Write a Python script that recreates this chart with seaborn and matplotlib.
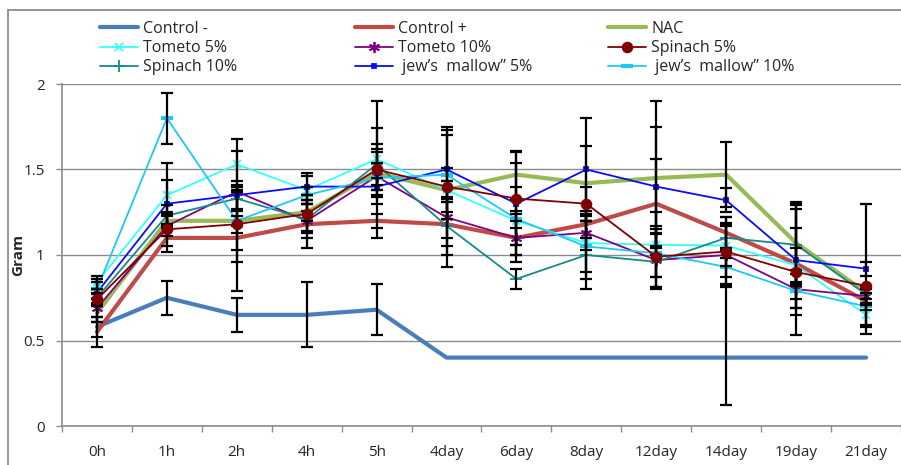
import numpy as np
import matplotlib
matplotlib.use("Agg")
import matplotlib.pyplot as plt
from matplotlib.patches import Rectangle
from matplotlib.ticker import FixedLocator, FuncFormatter
import seaborn as sns

# ---- data -------------------------------------------------------------
times = ["0h", "1h", "2h", "4h", "5h", "4day", "6day", "8day",
         "12day", "14day", "19day", "21day"]

control_neg = [0.58, 0.75, 0.65, 0.65, 0.68, 0.40, 0.40, 0.40, 0.40, 0.40, 0.40, 0.40]
control_neg_err_low = [0.06, 0.10, 0.10, 0.19, 0.15, 0, 0, 0, 0, 0.28, 0, 0]
control_neg_err_high = [0.06, 0.10, 0.10, 0.19, 0.15, 0, 0, 0, 0, 0.42, 0, 0]

control_pos = [0.55, 1.10, 1.10, 1.18, 1.20, 1.18, 1.10, 1.18, 1.30, 1.13, 0.95, 0.73]
control_pos_err = [0.09, 0.08, 0.31, 0.14, 0.04, 0.13, 0.10, 0.08, 0.26, 0.09, 0.21, 0.05]

nac = [0.66, 1.20, 1.20, 1.25, 1.48, 1.38, 1.47, 1.42, 1.45, 1.47, 1.07, 0.78]
nac_err = [0.05, 0.04, 0.03, 0.05, 0.14, 0.05, 0.14, 0.22, 0.45, 0.19, 0.24, 0.04]

tometo5 = [0.84, 1.35, 1.53, 1.38, 1.56, 1.38, 1.20, 1.07, 1.06, 1.055, 0.94, 0.65]
tometo5_err = [0.04, 0.19, 0.15, 0.08, 0.18, 0.05, 0.20, 0.17, 0.19, 0.12, 0.10, 0.06]

tometo10 = [0.69, 1.17, 1.37, 1.20, 1.46, 1.22, 1.10, 1.13, 0.97, 1.00, 0.80, 0.76]
tometo10_err = [0.08, 0.06, 0.24, 0.06, 0.08, 0.29, 0.14, 0.10, 0.16, 0.185, 0.11, 0.04]

spinach5 = [0.74, 1.15, 1.18, 1.24, 1.50, 1.40, 1.33, 1.30, 0.99, 1.02, 0.90, 0.82]
spinach5_err_low = [0.04, 0.10, 0.22, 0.11, 0.40, 0.30, 0.27, 0.10, 0.18, 0.15, 0.37, 0.28]
spinach5_err_high = [0.04, 0.10, 0.22, 0.11, 0.40, 0.30, 0.27, 0.10, 0.18, 0.15, 0.37, 0.48]

spinach10 = [0.75, 1.23, 1.33, 1.21, 1.53, 1.17, 0.86, 1.00, 0.96, 1.10, 1.06, 0.77]
spinach10_err = [0.05, 0.06, 0.07, 0.11, 0.12, 0.17, 0.06, 0.20, 0.16, 0.12, 0.24, 0.05]

mallow5 = [0.78, 1.30, 1.35, 1.40, 1.40, 1.50, 1.30, 1.50, 1.40, 1.32, 0.97, 0.92]
mallow5_err = [0.06, 0.14, 0.08, 0.08, 0.05, 0.25, 0.24, 0.30, 0.35, 0.07, 0.32, 0.04]

mallow10 = [0.80, 1.80, 1.20, 1.35, 1.45, 1.47, 1.21, 1.05, 1.01, 0.93, 0.79, 0.70]
mallow10_err = [0.06, 0.15, 0.17, 0.05, 0.15, 0.26, 0.05, 0.19, 0.14, 0.10, 0.10, 0.12]

labels = ["Control -", "Control +", "NAC", "Tometo 5%", "Tometo 10%",
          "Spinach 5%", "Spinach 10%", " jew\u2019s  mallow\u201d 5%",
          " jew\u2019s  mallow\u201d 10%"]

# ---- styling ----------------------------------------------------------
sns.set_style("white")
plt.rcParams["font.family"] = ["Open Sans", "DejaVu Sans"]
plt.rcParams["font.size"] = 11

series = [
    dict(y=control_neg, err=[control_neg_err_low, control_neg_err_high], color="#4A7EBB", lw=3.0, marker=None, ms=0),
    dict(y=control_pos, err=[control_pos_err, control_pos_err], color="#BE4B48", lw=3.0, marker=None, ms=0),
    dict(y=nac, err=[nac_err, nac_err], color="#98B954", lw=3.0, marker=None, ms=0),
    dict(y=tometo5, err=[tometo5_err, tometo5_err], color="#33FFFF", lw=1.3, marker="x", ms=6),
    dict(y=tometo10, err=[tometo10_err, tometo10_err], color="#800080", lw=1.3, marker=(6, 2, 0), ms=8),
    dict(y=spinach5, err=[spinach5_err_low, spinach5_err_high], color="#800000",
         lw=1.3, marker="o", ms=7),
    dict(y=spinach10, err=[spinach10_err, spinach10_err], color="#168A8A", lw=1.3, marker="+", ms=9),
    dict(y=mallow5, err=[mallow5_err, mallow5_err], color="#0A0AFF", lw=1.3, marker="s", ms=3.5),
    dict(y=mallow10, err=[mallow10_err, mallow10_err], color="#1EC8F5", lw=1.3, marker="_", ms=8),
]

fig = plt.figure(figsize=(9.01, 4.65), dpi=100)
fig.patch.set_facecolor("white")
ax = fig.add_axes([62 / 901, 39 / 465, 839 / 901, 342 / 465])

pos = np.arange(len(times))
handles = []
for i, s in enumerate(series):
    kw = {}
    if s["marker"] is not None:
        kw = dict(marker=s["marker"], markersize=s["ms"], markeredgecolor=s["color"],
                  markerfacecolor=s["color"], markeredgewidth=1.3 if s["marker"] != "_" else 3)
    sns.lineplot(x=pos, y=s["y"], ax=ax, color=s["color"], lw=s["lw"], sort=False,
                 errorbar=None, label=labels[i], zorder=2 + i * 0.01, **kw)
    handles.append(ax.lines[-1])
    lo = np.asarray(s["err"][0], dtype=float)
    hi = np.asarray(s["err"][1], dtype=float)
    yv = np.asarray(s["y"], dtype=float)
    keep = (lo > 0) | (hi > 0)
    ax.errorbar(pos[keep], yv[keep], yerr=[lo[keep], hi[keep]], fmt="none",
                ecolor="black", elinewidth=1.6, capsize=4, capthick=1.6, zorder=3)

# bring the spinach 5% dots above the bars
handles[5].set_zorder(4)

if ax.get_legend() is not None:
    ax.get_legend().remove()

# ---- axes -------------------------------------------------------------
ax.set_xlim(-0.5, len(times) - 0.5)
ax.set_ylim(0, 2)
ax.yaxis.set_major_locator(FixedLocator([0, 0.5, 1, 1.5, 2]))
ax.yaxis.set_major_formatter(FuncFormatter(lambda v, p: f"{v:g}"))
ax.set_xticks(pos)
ax.set_xticklabels(times)
ax.xaxis.set_minor_locator(FixedLocator(np.arange(-0.5, len(times), 1.0)))
ax.grid(axis="y", color="#8C8C8C", lw=1.0)
ax.set_axisbelow(True)
for side in ("top", "right"):
    ax.spines[side].set_visible(False)
for side in ("left", "bottom"):
    ax.spines[side].set_color("#8C8C8C")
    ax.spines[side].set_linewidth(1.2)
ax.tick_params(axis="y", which="major", length=4.5, width=1.0, color="#8C8C8C",
               pad=8, labelsize=11, labelcolor="#262626", left=True)
ax.tick_params(axis="x", which="major", length=0, pad=14, labelsize=11,
               labelcolor="#262626")
ax.tick_params(axis="x", which="minor", length=4.5, width=1.0, color="#8C8C8C",
               bottom=True)
ax.set_xlabel("")
ax.set_ylabel("Gram", fontsize=11, fontweight="bold", color="#262626")
ax.yaxis.set_label_coords((25 - 62) / 839, 0.5)

# ---- legend: three columns placed side by side ------------------------
col_x = [100, 355, 608]
for c in range(3):
    # entries fill row-wise: column c holds items c, c+3, c+6
    idx = [c, c + 3, c + 6]
    leg = fig.legend([handles[k] for k in idx], [labels[k] for k in idx],
                     loc="upper left", bbox_to_anchor=(col_x[c] / 901, 1 - 21 / 465),
                     frameon=False, borderpad=0, borderaxespad=0, handlelength=2.4,
                     handletextpad=0.3, labelspacing=0.2, fontsize=11.5)
    for t in leg.get_texts():
        t.set_color("#262626")

# outer chart border
fig.add_artist(Rectangle((8 / 901, -0.05), 1.2, 1 - 10 / 465 + 0.05,
                         transform=fig.transFigure, fill=False,
                         edgecolor="#8C8C8C", lw=1.3))

fig.savefig("out.png", dpi=100)
